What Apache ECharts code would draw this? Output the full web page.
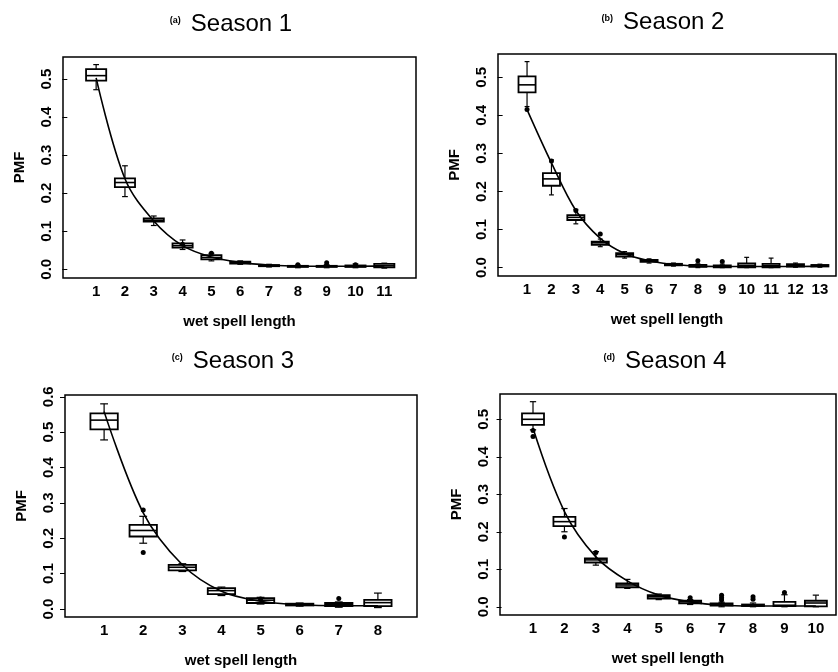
<!DOCTYPE html>
<html>
<head>
<meta charset="utf-8">
<title>Wet spell length PMF by season</title>
<script src="https://cdn.jsdelivr.net/npm/echarts@6/dist/echarts.min.js"></script>
<style>
  html, body { margin: 0; padding: 0; background: #fff; }
  #main { width: 838px; height: 672px; }
</style>
</head>
<body>
<div id="main"></div>
<script>
// spell lengths on the x axis
var lengths1 = [1, 2, 3, 4, 5, 6, 7, 8, 9, 10, 11];
var lengths2 = [1, 2, 3, 4, 5, 6, 7, 8, 9, 10, 11, 12, 13];
var lengths3 = [1, 2, 3, 4, 5, 6, 7, 8];
var lengths4 = [1, 2, 3, 4, 5, 6, 7, 8, 9, 10];

// boxes: [lower whisker, Q1, median, Q3, upper whisker]
var box1 = [
  [0.472, 0.496, 0.509, 0.526, 0.538],
  [0.191, 0.216, 0.228, 0.239, 0.272],
  [0.115, 0.125, 0.129, 0.134, 0.140],
  [0.052, 0.057, 0.062, 0.068, 0.077],
  [0.022, 0.026, 0.031, 0.037, 0.042],
  [0.013, 0.015, 0.018, 0.020, 0.022],
  [0.006, 0.008, 0.010, 0.011, 0.013],
  [0.004, 0.006, 0.008, 0.009, 0.011],
  [0.004, 0.006, 0.008, 0.009, 0.012],
  [0.004, 0.006, 0.008, 0.010, 0.014],
  [0.003, 0.005, 0.009, 0.014, 0.016]
];
var box2 = [
  [0.423, 0.460, 0.480, 0.502, 0.541],
  [0.191, 0.215, 0.233, 0.248, 0.283],
  [0.115, 0.125, 0.132, 0.138, 0.153],
  [0.055, 0.060, 0.065, 0.068, 0.075],
  [0.025, 0.029, 0.034, 0.038, 0.042],
  [0.012, 0.015, 0.018, 0.020, 0.023],
  [0.004, 0.006, 0.008, 0.010, 0.012],
  [0.000, 0.002, 0.004, 0.007, 0.010],
  [0.000, 0.001, 0.003, 0.006, 0.009],
  [0.000, 0.001, 0.006, 0.011, 0.027],
  [0.000, 0.001, 0.005, 0.010, 0.025],
  [0.001, 0.003, 0.006, 0.009, 0.012],
  [0.001, 0.003, 0.005, 0.007, 0.009]
];
var box3 = [
  [0.478, 0.508, 0.534, 0.553, 0.580],
  [0.186, 0.205, 0.222, 0.238, 0.262],
  [0.106, 0.109, 0.118, 0.125, 0.128],
  [0.038, 0.042, 0.052, 0.059, 0.062],
  [0.014, 0.017, 0.025, 0.031, 0.033],
  [0.008, 0.010, 0.012, 0.015, 0.017],
  [0.005, 0.008, 0.012, 0.017, 0.020],
  [0.004, 0.008, 0.018, 0.026, 0.045]
];
var box4 = [
  [0.472, 0.485, 0.500, 0.516, 0.547],
  [0.200, 0.215, 0.227, 0.240, 0.262],
  [0.111, 0.118, 0.125, 0.129, 0.147],
  [0.049, 0.052, 0.058, 0.062, 0.073],
  [0.019, 0.022, 0.027, 0.031, 0.034],
  [0.006, 0.009, 0.013, 0.016, 0.019],
  [0.000, 0.003, 0.005, 0.009, 0.012],
  [0.000, 0.002, 0.004, 0.006, 0.010],
  [0.000, 0.002, 0.004, 0.013, 0.032],
  [0.000, 0.001, 0.010, 0.016, 0.031]
];

// fitted PMF curves
var curve1 = [0.503, 0.238, 0.127, 0.062, 0.032, 0.018, 0.011, 0.008, 0.008, 0.008, 0.009];
var curve2 = [0.415, 0.275, 0.150, 0.077, 0.037, 0.018, 0.008, 0.004, 0.003, 0.003, 0.003, 0.003, 0.004];
var curve3 = [0.558, 0.272, 0.125, 0.050, 0.022, 0.012, 0.009, 0.009];
var curve4 = [0.476, 0.254, 0.133, 0.069, 0.031, 0.013, 0.004, 0.002, 0.002, 0.002];

// outlying points [length, pmf]
var out1 = [[4, 0.066], [5, 0.042], [8, 0.012], [9, 0.017], [10, 0.012]];
var out2 = [[1, 0.415], [2, 0.280], [3, 0.150], [4, 0.088], [8, 0.018], [9, 0.016]];
var out3 = [[2, 0.280], [2, 0.160], [5, 0.028], [7, 0.030]];
var out4 = [[1, 0.470], [1, 0.454], [2, 0.186], [3, 0.145], [6, 0.024], [7, 0.031],
            [7, 0.024], [7, 0.018], [8, 0.027], [8, 0.020], [9, 0.038]];

// y tick labels
var yTicks5 = [0, 0.1, 0.2, 0.3, 0.4, 0.5];
var yTicks6 = [0, 0.1, 0.2, 0.3, 0.4, 0.5, 0.6];

var FONT = '"Liberation Sans", Arial, Helvetica, sans-serif';
var BOX_HALF = 0.35;
var CAP_HALF = 0.1;

var panels = [
  { tag: '(a)', name: 'Season 1', lens: lengths1, box: box1, curve: curve1, out: out1, ticks: yTicks5,
    grid: { left: 63, top: 57, width: 353, height: 221 }, x: [-0.15, 12.1], y: [-0.023, 0.558], tx: 226, ty: 7 },
  { tag: '(b)', name: 'Season 2', lens: lengths2, box: box2, curve: curve2, out: out2, ticks: yTicks5,
    grid: { left: 498, top: 54, width: 338, height: 222 }, x: [-0.19, 13.66], y: [-0.022, 0.561], tx: 658, ty: 5 },
  { tag: '(c)', name: 'Season 3', lens: lengths3, box: box3, curve: curve3, out: out3, ticks: yTicks6,
    grid: { left: 65, top: 395, width: 352, height: 222 }, x: [0.0, 9.0], y: [-0.0226, 0.605], tx: 228, ty: 344 },
  { tag: '(d)', name: 'Season 4', lens: lengths4, box: box4, curve: curve4, out: out4, ticks: yTicks5,
    grid: { left: 500, top: 394, width: 336, height: 221 }, x: [-0.05, 10.64], y: [-0.022, 0.5675], tx: 660, ty: 344 }
];

function renderBox(params, api) {
  var x = api.value(0);
  var lo = api.coord([x, api.value(1)]);
  var q1 = api.coord([x, api.value(2)]);
  var md = api.coord([x, api.value(3)]);
  var q3 = api.coord([x, api.value(4)]);
  var hi = api.coord([x, api.value(5)]);
  var half = api.size([BOX_HALF, 0])[0];
  var cap = api.size([CAP_HALF, 0])[0];
  var ink = { stroke: '#000', lineWidth: 1.2, fill: null };
  return {
    type: 'group',
    children: [
      { type: 'line', shape: { x1: hi[0], y1: hi[1], x2: q3[0], y2: q3[1] }, style: ink },
      { type: 'line', shape: { x1: lo[0], y1: lo[1], x2: q1[0], y2: q1[1] }, style: ink },
      { type: 'line', shape: { x1: hi[0] - cap, y1: hi[1], x2: hi[0] + cap, y2: hi[1] }, style: ink },
      { type: 'line', shape: { x1: lo[0] - cap, y1: lo[1], x2: lo[0] + cap, y2: lo[1] }, style: ink },
      { type: 'rect', shape: { x: q1[0] - half, y: q3[1], width: half * 2, height: q1[1] - q3[1] },
        style: { fill: '#fff', stroke: '#000', lineWidth: 1.8 } },
      { type: 'line', shape: { x1: md[0] - half, y1: md[1], x2: md[0] + half, y2: md[1] },
        style: { stroke: '#000', lineWidth: 1.6 } }
    ]
  };
}

var option = {
  animation: false,
  backgroundColor: '#fff',
  title: [], grid: [], xAxis: [], yAxis: [], series: []
};

panels.forEach(function (p, i) {
  option.title.push({
    text: '{p|' + p.tag + '}{t|' + p.name + '}',
    left: p.tx, top: p.ty, textAlign: 'center',
    textStyle: {
      fontWeight: 'normal',
      rich: {
        p: { fontFamily: FONT, fontSize: 9, fontWeight: 'bold', color: '#000', padding: [0, 10, 6, 0] },
        t: { fontFamily: FONT, fontSize: 24, fontWeight: 'normal', color: '#000' }
      }
    }
  });
  option.grid.push({
    left: p.grid.left, top: p.grid.top, width: p.grid.width, height: p.grid.height,
    show: true, borderColor: '#000', borderWidth: 1.5, backgroundColor: 'transparent',
    outerBoundsMode: 'none'
  });
  option.xAxis.push({
    type: 'value', gridIndex: i, min: p.x[0], max: p.x[1],
    name: 'wet spell length', nameLocation: 'middle', nameGap: 36,
    nameTextStyle: { fontFamily: FONT, fontSize: 15, fontWeight: 'bold', color: '#000' },
    axisLine: { show: false }, axisTick: { show: false }, splitLine: { show: false },
    axisLabel: { customValues: p.lens, margin: 6, fontFamily: FONT, fontSize: 15,
                 fontWeight: 'bold', color: '#000' }
  });
  option.yAxis.push({
    type: 'value', gridIndex: i, min: p.y[0], max: p.y[1],
    name: 'PMF', nameLocation: 'middle', nameGap: 36,
    nameTextStyle: { fontFamily: FONT, fontSize: 15, fontWeight: 'bold', color: '#000' },
    axisLine: { show: false }, splitLine: { show: false },
    axisTick: { show: true, customValues: p.ticks, length: 5, lineStyle: { color: '#000', width: 1 } },
    axisLabel: { customValues: p.ticks, rotate: 90, margin: 9, fontFamily: FONT, fontSize: 15,
                 fontWeight: 'bold', color: '#000',
                 formatter: function (v) { return v.toFixed(1); } }
  });
  option.series.push({
    type: 'custom', xAxisIndex: i, yAxisIndex: i, z: 2,
    renderItem: renderBox,
    encode: { x: 0, y: [1, 2, 3, 4, 5] },
    data: p.box.map(function (b, k) { return [p.lens[k]].concat(b); })
  });
  option.series.push({
    type: 'line', xAxisIndex: i, yAxisIndex: i, z: 4, smooth: 0.35,
    symbol: 'none', lineStyle: { color: '#000', width: 1.6 },
    data: p.curve.map(function (v, k) { return [p.lens[k], v]; })
  });
  option.series.push({
    type: 'scatter', xAxisIndex: i, yAxisIndex: i, z: 5,
    symbol: 'circle', symbolSize: 5, itemStyle: { color: '#000', opacity: 1 },
    data: p.out
  });
});

var chart = echarts.init(document.getElementById('main'));
chart.setOption(option);
</script>
</body>
</html>
